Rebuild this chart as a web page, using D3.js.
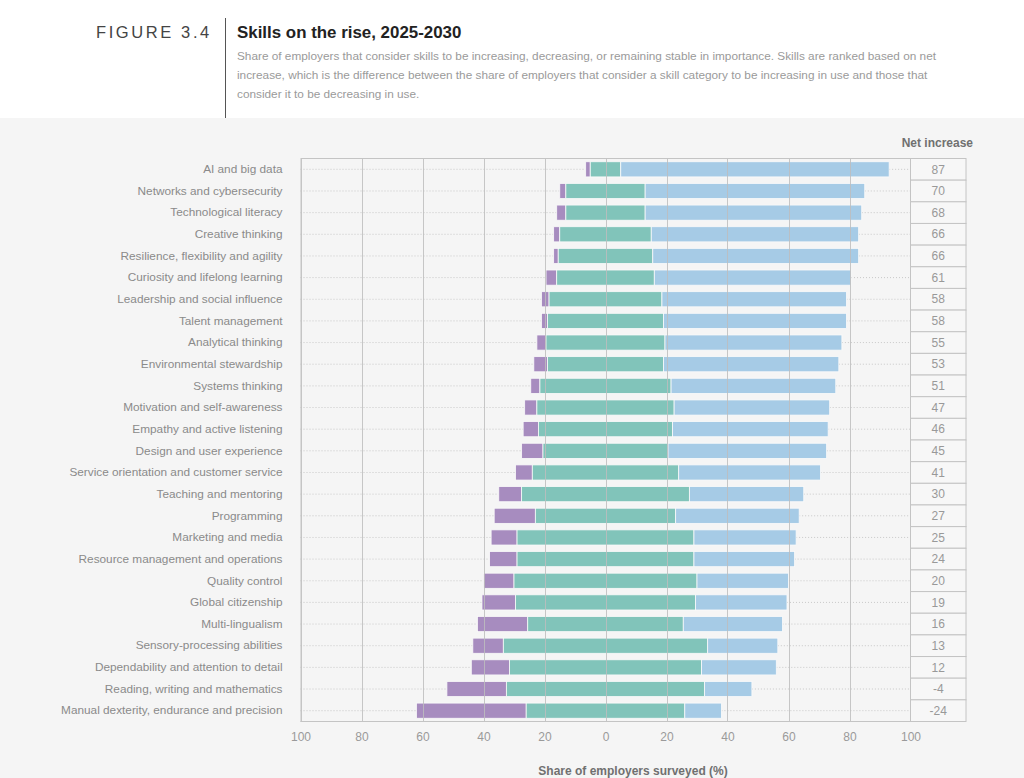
<!DOCTYPE html>
<html>
<head>
<meta charset="utf-8">
<script src="https://cdn.jsdelivr.net/npm/d3@7"></script>
<style>
  body { margin: 0; background: #fff; }
  text { font-family: "Liberation Sans", Arial, sans-serif; }
</style>
</head>
<body>
<div id="my_dataviz"></div>
<script>
// skills, ranked by net increase
var skills = [
  "AI and big data", "Networks and cybersecurity", "Technological literacy",
  "Creative thinking", "Resilience, flexibility and agility", "Curiosity and lifelong learning",
  "Leadership and social influence", "Talent management", "Analytical thinking",
  "Environmental stewardship", "Systems thinking", "Motivation and self-awareness",
  "Empathy and active listening", "Design and user experience",
  "Service orientation and customer service", "Teaching and mentoring", "Programming",
  "Marketing and media", "Resource management and operations", "Quality control",
  "Global citizenship", "Multi-lingualism", "Sensory-processing abilities",
  "Dependability and attention to detail", "Reading, writing and mathematics",
  "Manual dexterity, endurance and precision"
];
var decreasing = [1.5, 2, 3, 2, 1.5, 3.5, 2.5, 2, 3, 4.5, 3, 4, 5, 7, 5.5, 7.5, 13.5, 8.5, 9, 10, 11, 16.5, 10, 12.5, 19.5, 36];
var stable     = [10, 26, 26, 30, 31, 32, 37, 38, 39, 38, 43, 45, 44, 41, 48, 55, 46, 58, 58, 60, 59, 51, 67, 63, 65, 52];
var increasing = [88, 72, 71, 68, 67.5, 64.5, 60.5, 60, 58, 57.5, 54, 51, 51, 52, 46.5, 37.5, 40.5, 33.5, 33, 30, 30, 32.5, 23, 24.5, 15.5, 12];
var netIncrease = [87, 70, 68, 66, 66, 61, 58, 58, 55, 53, 51, 47, 46, 45, 41, 30, 27, 25, 24, 20, 19, 16, 13, 12, -4, -24];
var xTicks = [-100, -80, -60, -40, -20, 0, 20, 40, 60, 80, 100];

var W = 1024, H = 778;
var plot = {left: 300.5, right: 910.5, top: 158.5, bottom: 721.5};
var boxRight = 966;

var svg = d3.select("#my_dataviz")
  .append("svg")
    .attr("width", W)
    .attr("height", H);

// backgrounds
svg.append("rect").attr("width", W).attr("height", 118).attr("fill", "#fff");
svg.append("rect").attr("y", 118).attr("width", W).attr("height", H - 118).attr("fill", "#f5f5f5");

// header
svg.append("text")
  .attr("x", 96).attr("y", 38)
  .attr("font-size", 16.5)
  .attr("letter-spacing", 2.6)
  .attr("fill", "#444")
  .text("FIGURE 3.4");
svg.append("line")
  .attr("x1", 225.5).attr("x2", 225.5).attr("y1", 18).attr("y2", 118)
  .attr("stroke", "#555").attr("stroke-width", 1);
svg.append("text")
  .attr("x", 237).attr("y", 38)
  .attr("font-size", 16.9).attr("font-weight", "bold")
  .attr("fill", "#222")
  .text("Skills on the rise, 2025-2030");

var subtitle = [
  "Share of employers that consider skills to be increasing, decreasing, or remaining stable in importance. Skills are ranked based on net",
  "increase, which is the difference between the share of employers that consider a skill category to be increasing in use and those that",
  "consider it to be decreasing in use."
];
svg.selectAll(".sub")
  .data(subtitle)
  .enter().append("text")
    .attr("class", "sub")
    .attr("x", 237)
    .attr("y", function(d, i) { return 60 + i * 18.8; })
    .attr("font-size", 11.8)
    .attr("fill", "#9a9a9a")
    .text(function(d) { return d; });

// scales
var x = d3.scaleLinear().domain([-100, 100]).range([plot.left, plot.right]);
var y = d3.scaleBand().domain(skills).range([plot.top, plot.bottom]).paddingInner(0.3).paddingOuter(0.15);
var yRow = d3.scaleBand().domain(skills).range([plot.top, plot.bottom]);

var rows = skills.map(function(s, i) {
  return {skill: s, dec: decreasing[i], stab: stable[i], inc: increasing[i], net: netIncrease[i]};
});

// dotted leader lines
var g = svg.append("g");
g.selectAll(".lead-l")
  .data(rows)
  .enter().append("line")
    .attr("x1", plot.left)
    .attr("x2", function(d) { return x(-d.stab / 2 - d.dec); })
    .attr("y1", function(d) { return y(d.skill) + y.bandwidth() / 2; })
    .attr("y2", function(d) { return y(d.skill) + y.bandwidth() / 2; })
    .attr("stroke", "#c8c8c8").attr("stroke-dasharray", "1,2");
g.selectAll(".lead-r")
  .data(rows)
  .enter().append("line")
    .attr("x1", function(d) { return x(d.stab / 2 + d.inc); })
    .attr("x2", plot.right + 6)
    .attr("y1", function(d) { return y(d.skill) + y.bandwidth() / 2; })
    .attr("y2", function(d) { return y(d.skill) + y.bandwidth() / 2; })
    .attr("stroke", "#c8c8c8").attr("stroke-dasharray", "1,2");

// bars
var bars = svg.append("g");
bars.selectAll(".dec")
  .data(rows)
  .enter().append("rect")
    .attr("x", function(d) { return x(-d.stab / 2 - d.dec); })
    .attr("y", function(d) { return y(d.skill); })
    .attr("width", function(d) { return x(d.dec) - x(0); })
    .attr("height", y.bandwidth())
    .attr("fill", "#a78cbf");
bars.selectAll(".stab")
  .data(rows)
  .enter().append("rect")
    .attr("x", function(d) { return x(-d.stab / 2); })
    .attr("y", function(d) { return y(d.skill); })
    .attr("width", function(d) { return x(d.stab) - x(0); })
    .attr("height", y.bandwidth())
    .attr("fill", "#81c4ba");
bars.selectAll(".inc")
  .data(rows)
  .enter().append("rect")
    .attr("x", function(d) { return x(d.stab / 2); })
    .attr("y", function(d) { return y(d.skill); })
    .attr("width", function(d) { return x(d.inc) - x(0); })
    .attr("height", y.bandwidth())
    .attr("fill", "#a6cbe6");
bars.selectAll("rect")
  .attr("stroke", "#fafafa").attr("stroke-width", 0.8);

// grid lines on top of bars
svg.append("g").selectAll("line")
  .data(xTicks)
  .enter().append("line")
    .attr("x1", function(d) { return Math.round(x(d)) + 0.5; })
    .attr("x2", function(d) { return Math.round(x(d)) + 0.5; })
    .attr("y1", plot.top).attr("y2", plot.bottom)
    .attr("stroke", "#bdbdbd").attr("stroke-opacity", 0.85);

// frame
svg.append("line").attr("x1", plot.left).attr("x2", boxRight).attr("y1", plot.top).attr("y2", plot.top).attr("stroke", "#c4c4c4");
svg.append("line").attr("x1", plot.left).attr("x2", boxRight).attr("y1", plot.bottom).attr("y2", plot.bottom).attr("stroke", "#c4c4c4");

// net increase column
var net = svg.append("g");
net.selectAll("rect")
  .data(rows)
  .enter().append("rect")
    .attr("x", plot.right)
    .attr("y", function(d) { return yRow(d.skill); })
    .attr("width", boxRight - plot.right)
    .attr("height", yRow.bandwidth())
    .attr("fill", "#f7f7f7")
    .attr("stroke", "#c4c4c4");
net.selectAll("text")
  .data(rows)
  .enter().append("text")
    .attr("x", (plot.right + boxRight) / 2)
    .attr("y", function(d) { return yRow(d.skill) + yRow.bandwidth() / 2; })
    .attr("dy", "0.35em")
    .attr("text-anchor", "middle")
    .attr("font-size", 12)
    .attr("fill", "#999")
    .text(function(d) { return d.net; });
svg.append("text")
  .attr("x", 973).attr("y", 147)
  .attr("text-anchor", "end")
  .attr("font-size", 12).attr("font-weight", "bold")
  .attr("fill", "#707070")
  .text("Net increase");

// y axis labels
var yAxis = svg.append("g")
  .attr("transform", "translate(" + plot.left + ",0)")
  .call(d3.axisLeft(y).tickSize(0).tickPadding(18));
yAxis.select(".domain").attr("stroke", "#c4c4c4");
yAxis.selectAll("text")
  .attr("font-family", "Liberation Sans, Arial, sans-serif")
  .attr("font-size", 11.8)
  .attr("fill", "#8a8a8a");

// x axis
var xAxis = svg.append("g")
  .attr("transform", "translate(0," + plot.bottom + ")")
  .call(d3.axisBottom(x).tickValues(xTicks).tickSize(0).tickPadding(11)
    .tickFormat(function(d) { return Math.abs(d); }));
xAxis.select(".domain").remove();
xAxis.selectAll("text")
  .attr("font-family", "Liberation Sans, Arial, sans-serif")
  .attr("font-size", 12)
  .attr("fill", "#9a9a9a");

svg.append("text")
  .attr("x", 633).attr("y", 775)
  .attr("text-anchor", "middle")
  .attr("font-size", 12).attr("font-weight", "bold")
  .attr("fill", "#707070")
  .text("Share of employers surveyed (%)");
</script>
</body>
</html>
